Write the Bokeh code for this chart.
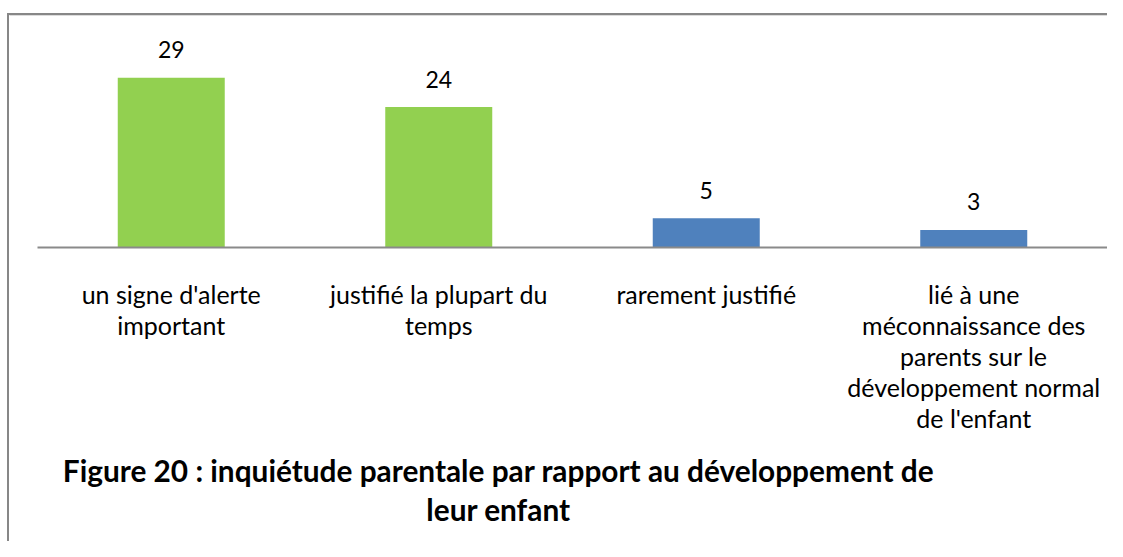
from bokeh.plotting import figure
from bokeh.models import Range1d, LinearAxis, FixedTicker
from bokeh.core.properties import value
from bokeh.embed import file_html
from bokeh.resources import INLINE

# ---- data ----
categories = [
    "un signe d'alerte\nimportant",
    "justifié la plupart du\ntemps",
    "rarement justifié",
    "lié à une\nméconnaissance des\nparents sur le\ndéveloppement normal\nde l'enfant",
]
counts = [29, 24, 5, 3]
bar_colors = ["#92D050", "#92D050", "#4F81BD", "#4F81BD"]
title_lines = [
    "Figure 20 : inquiétude parentale par rapport au développement de",
    "leur enfant",
]

# ---- layout (pixels inside the canvas) ----
W, H = 1107, 541
x0_px = 37.0      # left end of the baseline
step_px = 267.5   # width of one category slot
base_px = 247.0   # baseline from top
unit_px = 5.85    # pixels per unit

positions = [i + 1 for i in range(len(categories))]
x_start = 0.5 - x0_px / step_px
x_end = x_start + W / step_px
y_end = base_px / unit_px
y_start = -(H - base_px) / unit_px

def px_x(px):
    return x_start + px / step_px

def px_y(py):
    return (base_px - py) / unit_px

FONT = "Lato"

p = figure(width=W, height=H,
           x_range=Range1d(x_start, x_end), y_range=Range1d(y_start, y_end),
           x_axis_type=None, y_axis_type=None,
           min_border=0, toolbar_location=None, output_backend="svg",
           outline_line_color=None, background_fill_color="white",
           border_fill_color="white")

# page frame lines (top and left)
top_y = px_y(13.5)
left_x = px_x(7.5)
p.segment(x0=[left_x], y0=[top_y], x1=[x_end], y1=[top_y],
          line_color="#878787", line_width=2)
p.segment(x0=[left_x + 1.5 / step_px], y0=[top_y - 1.5 / unit_px], x1=[x_end], y1=[top_y - 1.5 / unit_px],
          line_color="#dcdcdc", line_width=1)
p.segment(x0=[left_x], y0=[y_start], x1=[left_x], y1=[top_y + 1 / unit_px],
          line_color="#878787", line_width=2)

# bars
p.vbar(x=positions, top=counts, width=0.4, bottom=0,
       fill_color=bar_colors, line_color=None)

# baseline axis with category labels
ax = LinearAxis(fixed_location=0, bounds=(0.5, len(categories) + 0.5),
                ticker=FixedTicker(ticks=positions),
                major_label_overrides={pos: cat for pos, cat in zip(positions, categories)},
                major_tick_line_color=None, minor_tick_line_color=None,
                axis_line_color="#8a8a8a", axis_line_width=2,
                major_label_text_font=FONT, major_label_text_font_size="25px",
                major_label_text_color="#000000",
                major_label_text_line_height=1.04,
                major_label_standoff=25)
p.add_layout(ax, "below")

# value labels
p.text(x=positions, y=counts, text=[str(c) for c in counts],
       text_align="center", text_baseline="alphabetic", y_offset=-28,
       text_font=value(FONT), text_font_size="23px", text_color="#000000")

# caption
tx = px_x(498.0)
p.text(x=[tx, tx], y=[px_y(469.5), px_y(509.0)], text=title_lines,
       text_align="center", text_baseline="alphabetic",
       text_font=value(FONT), text_font_style="bold", text_font_size="29.8px",
       text_color="#000000")

open("out.html", "w").write(file_html(p, INLINE))
